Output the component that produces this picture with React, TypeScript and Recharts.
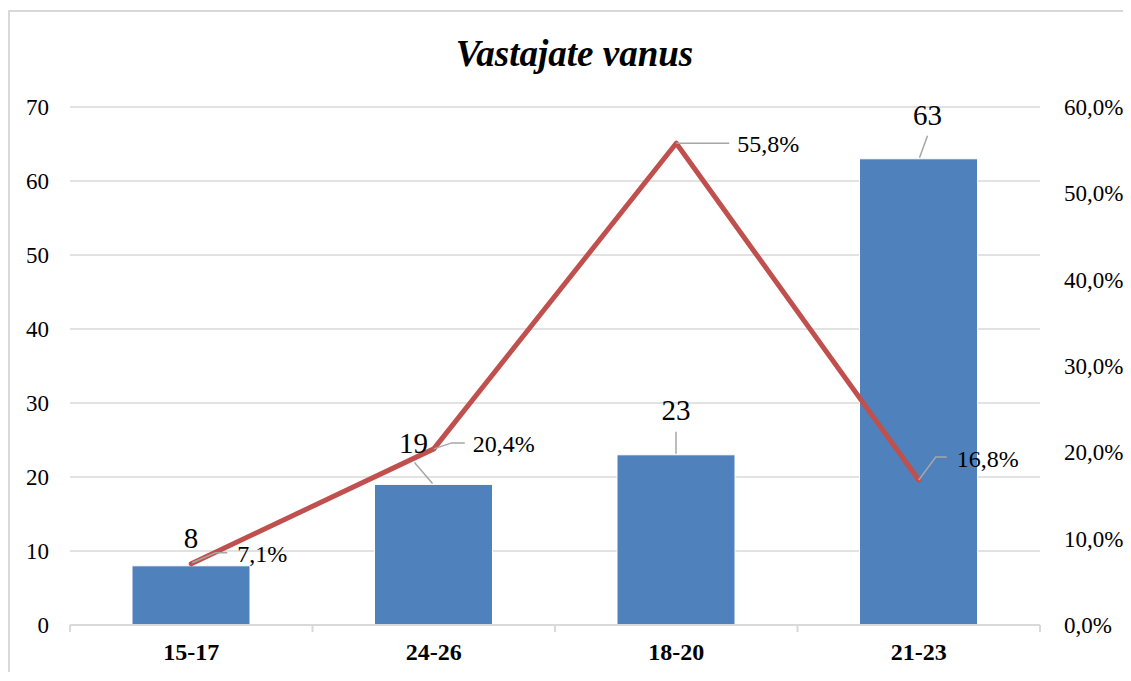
import {
  Bar,
  CartesianGrid,
  ComposedChart,
  LabelList,
  Line,
  XAxis,
  YAxis,
} from "recharts";

const categories = ["15-17", "24-26", "18-20", "21-23"];
const counts = [8, 19, 23, 63];
const shares = [7.1, 20.4, 55.8, 16.8];
const countTicks = [0, 10, 20, 30, 40, 50, 60, 70];
const shareTicks = [0, 10, 20, 30, 40, 50, 60];

const data = categories.map((age, i) => ({
  age,
  count: counts[i],
  share: shares[i],
}));

const BAR = "#4F81BD";
const LINE = "#C0504D";
const GRID = "#d9d9d9";
const LEADER = "#a6a6a6";
const FONT = "'Liberation Serif', 'Times New Roman', serif";

// Excel-style label placement, relative to the bar top / line point
const barLabelPos = [
  { dx: 0, dy: -18, leader: null },
  { dx: -20, dy: -31, leader: [-19, -22, -1, -1] },
  { dx: 0, dy: -35, leader: [0, -23, 0, -1] },
  { dx: 9, dy: -34, leader: [9, -23, 1, -1] },
];
const lineLabelPos = [
  { dx: 46, dy: -2, leader: [1, -1, 24, -11, 36, -11] },
  { dx: 39, dy: 3, leader: [0, 0, 18, -6, 31, -6] },
  { dx: 61, dy: 9, leader: [0, 0, 53, 0] },
  { dx: 38, dy: -13, leader: [0, 0, 17, -23, 28, -23] },
];

const pct = (v: number) => `${v.toFixed(1).replace(".", ",")}%`;

function BarValueLabel(props: any) {
  const { x = 0, y = 0, width = 0, value, index = 0 } = props;
  const cx = Number(x) + Number(width) / 2;
  const top = Number(y);
  const p = barLabelPos[index];
  return (
    <g>
      {p.leader && (
        <line
          x1={cx + p.leader[0]}
          y1={top + p.leader[1]}
          x2={cx + p.leader[2]}
          y2={top + p.leader[3]}
          stroke={LEADER}
          strokeWidth={1.5}
        />
      )}
      <text
        x={cx + p.dx}
        y={top + p.dy}
        textAnchor="middle"
        fontFamily={FONT}
        fontSize={29}
        fill="#000"
      >
        {value}
      </text>
    </g>
  );
}

function ShareLabel(props: any) {
  const { x = 0, y = 0, value, index = 0 } = props;
  const px = Number(x);
  const py = Number(y);
  const p = lineLabelPos[index];
  const pts: string[] = [];
  for (let i = 0; i < p.leader.length; i += 2) {
    pts.push(`${px + p.leader[i]},${py + p.leader[i + 1]}`);
  }
  return (
    <g>
      <polyline
        points={pts.join(" ")}
        fill="none"
        stroke={LEADER}
        strokeWidth={1.5}
      />
      <text
        x={px + p.dx}
        y={py + p.dy}
        fontFamily={FONT}
        fontSize={24}
        fill="#000"
      >
        {pct(Number(value))}
      </text>
    </g>
  );
}

function CategoryTick(props: any) {
  const { x = 0, y = 0, payload, index = 0, visibleTicksCount = 4 } = props;
  const half = payload?.offset ?? 121;
  return (
    <g>
      <line x1={x - half} y1={y} x2={x - half} y2={y + 7} stroke={GRID} strokeWidth={2} />
      {index === visibleTicksCount - 1 && (
        <line x1={x + half} y1={y} x2={x + half} y2={y + 7} stroke={GRID} strokeWidth={2} />
      )}
      <text
        x={x}
        y={y + 35}
        textAnchor="middle"
        fontFamily={FONT}
        fontSize={24}
        fontWeight="bold"
        fill="#000"
      >
        {payload?.value}
      </text>
    </g>
  );
}

export default function App() {
  return (
    <div
      style={{
        position: "relative",
        marginTop: 2,
        width: 1121,
        height: 660,
        borderLeft: "2px solid #d9d9d9",
        borderTop: "2px solid #d9d9d9",
        background: "#fff",
      }}
    >
      <div
        style={{
          position: "absolute",
          top: 23,
          left: 4,
          width: 1121,
          textAlign: "center",
          fontFamily: FONT,
          fontSize: 37,
          lineHeight: "37px",
          fontWeight: "bold",
          fontStyle: "italic",
          color: "#000",
        }}
      >
        Vastajate vanus
      </div>
      <ComposedChart
        width={1121}
        height={660}
        data={data}
        margin={{ top: 95, right: 0, bottom: 0, left: 0 }}
      >
        <CartesianGrid
          yAxisId="left"
          vertical={false}
          stroke={GRID}
          strokeWidth={1.5}
        />
        <XAxis
          dataKey="age"
          height={47}
          axisLine={{ stroke: GRID, strokeWidth: 2 }}
          tickLine={false}
          tickSize={0}
          tickMargin={0}
          tick={<CategoryTick />}
          interval={0}
        />
        <YAxis
          yAxisId="left"
          width={60}
          domain={[0, 70]}
          ticks={countTicks}
          axisLine={false}
          tickLine={false}
          tickSize={0}
          tickMargin={21}
          tick={{ fill: "#000", fontSize: 23, fontFamily: FONT }}
        />
        <YAxis
          yAxisId="right"
          orientation="right"
          width={91}
          domain={[0, 60]}
          ticks={shareTicks}
          tickFormatter={pct}
          axisLine={false}
          tickLine={false}
          tickSize={0}
          tickMargin={24}
          tick={{ fill: "#000", fontSize: 23, fontFamily: FONT }}
        />
        <Bar
          yAxisId="left"
          dataKey="count"
          fill={BAR}
          stroke="#fff"
          strokeWidth={1}
          barSize={118}
          isAnimationActive={false}
        >
          <LabelList dataKey="count" content={<BarValueLabel />} />
        </Bar>
        <Line
          yAxisId="right"
          dataKey="share"
          type="linear"
          stroke={LINE}
          strokeWidth={5}
          strokeLinejoin="round"
          strokeLinecap="round"
          dot={false}
          activeDot={false}
          isAnimationActive={false}
        >
          <LabelList dataKey="share" content={<ShareLabel />} />
        </Line>
      </ComposedChart>
    </div>
  );
}
